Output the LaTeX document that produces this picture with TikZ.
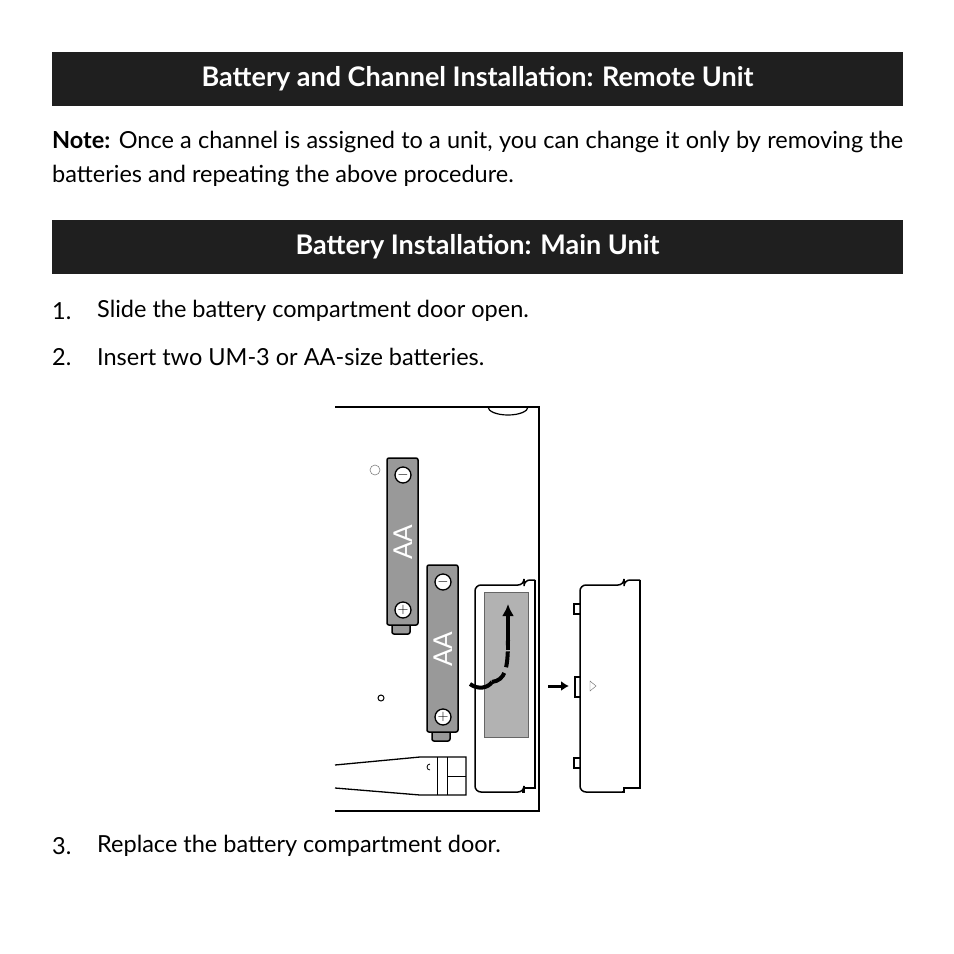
\documentclass[tikz,border=0pt]{standalone}
\usepackage{fontspec}
\usetikzlibrary{arrows.meta}
\setmainfont{Lato}
\begin{document}
\begin{tikzpicture}[x=1pt,y=-1pt,
  bar/.style={fill=black!88,draw=none},
  head/.style={text=white,font=\fontsize{27}{30}\selectfont\bfseries},
  body/.style={font=\fontsize{23.5}{34}\selectfont,anchor=west,inner sep=0},
  ln/.style={draw=black,line width=1.2pt},
  batt/.style={draw=black,line width=1.5pt,fill=black!40,rounded corners=2pt},
  term/.style={circle,draw=black,line width=1.3pt,fill=white,minimum size=16pt,inner sep=0,font=\bfseries\Large}]
\useasboundingbox (0,0) rectangle (954,954);
\fill[bar] (52,52) rectangle (903,106);
\node[head] (h1) at (477.5,79) {Battery and Channel Installation: Remote Unit};
\node[body,text width=851,align=justify,anchor=north west] (note) at (52,131) {\textbf{Note:} Once a channel is assigned to a unit, you can change it only by removing the batteries and repeating the above procedure.};
\fill[bar] (52,220) rectangle (903,274);
\node[head] (h2) at (477.5,247) {Battery Installation: Main Unit};
\node[body] (n1) at (52,311) {1.};
\node[body] (s1) at (97,311) {Slide the battery compartment door open.};
\node[body] (n2) at (52,357) {2.};
\node[body] (s2) at (97,357) {Insert two UM-3 or AA-size batteries.};
\node[body] (n3) at (52,846) {3.};
\node[body] (s3) at (97,846) {Replace the battery compartment door.};
% unit
\draw[ln] (488,407) arc[start angle=180,end angle=0,x radius=20,y radius=8];
\draw[ln] (335,407) -- (539,407) -- (539,811) -- (335,811);
\draw[line width=0.6pt,black!50] (375,470) circle (5);
\draw[line width=1pt] (381,698) circle (3);
% batteries
\foreach \x/\y/\nm in {387/458/b1,427/565/b2}{
  \draw[batt] (\x+5,\y+165) rectangle (\x+23,\y+176);
  \draw[batt] (\x,\y) rectangle (\x+31,\y+167);
  \node[term] at (\x+16,\y+17) {$-$};
  \node[term] at (\x+16,\y+152) {$+$};
  \node[rotate=90,font=\fontsize{26}{26}\selectfont,text=white] at (\x+16,\y+84) {AA};
}
% compartment
\draw[line width=1.5pt,rounded corners=6pt] (535,580) -- (524,580) -- (524,585) -- (475,585) -- (475,792) -- (524,792) -- (524,792);
\draw[line width=1.5pt] (522,792) -- (524,792) -- (524,788) -- (535,788) -- (535,580);
\fill[black!30] (484,592) rectangle (528,737);
\draw[line width=0.4pt,black!60] (484,592) rectangle (528,737);
\draw[line width=4pt,dashed,dash pattern=on 16pt off 6pt] (492,682) .. controls (505,680) and (508,670) .. (508,640);
\draw[-{Latex[length=12pt,width=12pt]},line width=4pt] (508,650) -- (508,604);
\draw[line width=4pt] (470,684) .. controls (478,690) and (488,688) .. (492,682);
% door
\draw[line width=1.5pt,rounded corners=6pt] (640,580) -- (624,580) -- (624,585) -- (580,585) -- (580,792) -- (624,792);
\draw[line width=1.5pt] (622,792) -- (624,792) -- (624,788) -- (640,788) -- (640,580);
\foreach \y/\h in {604/10,758/10}{\draw[line width=1.3pt] (580,\y) -- (574,\y) -- (574,\y+\h) -- (580,\y+\h);}
\draw[line width=1.3pt] (580,677) -- (575,677) -- (575,697) -- (580,697);
\draw[line width=0.4pt,black!60] (590,681) -- (596,686) -- (590,691) -- cycle;
\draw[-{Latex[length=8pt,width=10pt]},line width=3pt] (548,686) -- (569,686);
% bottom piece
\draw[line width=1.3pt] (335,765) -- (420,757) -- (466,757) -- (466,795) -- (420,795) -- (335,788);
\draw[line width=1pt] (447,757) -- (447,795) (447,776) -- (466,776);
\draw[line width=0.8pt] (437,757) -- (437,795);
\draw[line width=0.8pt] (430,770) arc[start angle=90,end angle=270,radius=3];
\end{tikzpicture}
\end{document}
